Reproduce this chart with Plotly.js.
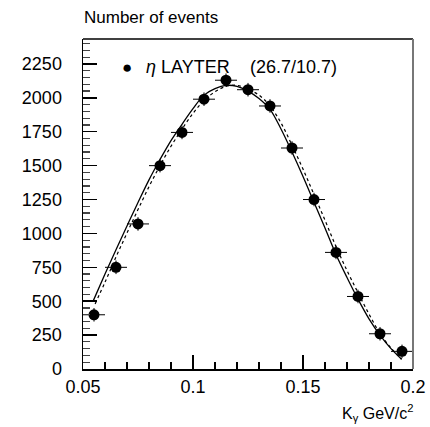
<!DOCTYPE html>
<html>
<head>
<meta charset="utf-8">
<script src="https://cdn.plot.ly/plotly-3.0.1.min.js"></script>
<style>
  html, body { margin: 0; padding: 0; background: #fff; overflow: hidden; }
  #chart { width: 430px; height: 427px; }
</style>
</head>
<body>
<div id="chart"></div>
<script>
// Photon energy bins (GeV/c^2) and event counts
const binCenters = [0.055, 0.065, 0.075, 0.085, 0.095, 0.105, 0.115, 0.125,
                    0.135, 0.145, 0.155, 0.165, 0.175, 0.185, 0.195];
const counts = [400, 750, 1070, 1500, 1745, 1990, 2130, 2060,
                1940, 1630, 1250, 860, 535, 260, 130];
const countErr = [50, 50, 50, 50, 50, 50, 50, 50, 50, 50, 50, 50, 50, 50, 50];
const binHalfWidth = [0.005, 0.005, 0.005, 0.005, 0.005, 0.005, 0.005, 0.005,
                      0.005, 0.005, 0.005, 0.005, 0.005, 0.005, 0.005];

// Fitted spectrum (solid)
const fitX = [0.0545, 0.060, 0.065, 0.070, 0.075, 0.080, 0.085, 0.090, 0.095, 0.100,
              0.105, 0.110, 0.115, 0.120, 0.125, 0.130, 0.135, 0.140, 0.145, 0.150,
              0.155, 0.160, 0.165, 0.170, 0.175, 0.180, 0.185, 0.190, 0.1948];
const fitY = [497, 700, 880, 1055, 1228, 1395, 1545, 1685, 1805, 1920,
              2020, 2068, 2092, 2085, 2050, 1995, 1915, 1770, 1600, 1420,
              1230, 1040, 845, 675, 515, 370, 250, 150, 72];

// Alternative spectrum (dotted)
const altX = [0.0555, 0.060, 0.065, 0.070, 0.075, 0.080, 0.085, 0.090, 0.095, 0.100,
              0.105, 0.110, 0.115, 0.120, 0.125, 0.130, 0.135, 0.140, 0.145, 0.150,
              0.155, 0.160, 0.165, 0.170, 0.175, 0.180, 0.185, 0.190, 0.1948];
const altY = [480, 640, 826, 1003, 1176, 1345, 1500, 1643, 1769, 1886,
              1980, 2045, 2084, 2092, 2063, 2020, 1940, 1815, 1650, 1475,
              1287, 1097, 903, 726, 563, 405, 262, 155, 72];

const xTicks = [0.05, 0.1, 0.15, 0.2];
const xTickText = ['0.05', '0.1', '0.15', '0.2'];
const yTicks = [0, 250, 500, 750, 1000, 1250, 1500, 1750, 2000, 2250];

const FONT = 'Liberation Sans, Arial, sans-serif';

const traces = [
  {
    x: fitX, y: fitY, type: 'scatter', mode: 'lines',
    line: { color: '#000', width: 1.3, shape: 'spline', smoothing: 1 },
    hoverinfo: 'skip'
  },
  {
    x: altX, y: altY, type: 'scatter', mode: 'lines',
    line: { color: '#000', width: 1.2, dash: 'dot', shape: 'spline', smoothing: 1 },
    hoverinfo: 'skip'
  },
  {
    x: binCenters, y: counts, type: 'scatter', mode: 'markers',
    marker: { color: '#000', size: 11, symbol: 'circle' },
    error_y: { type: 'data', array: countErr, visible: true, color: '#000', thickness: 1, width: 0 },
    error_x: { type: 'data', array: binHalfWidth, visible: true, color: '#000', thickness: 1, width: 0 }
  }
];

const layout = {
  width: 430, height: 427,
  margin: { l: 83, r: 17, t: 39, b: 58 },
  paper_bgcolor: '#fff', plot_bgcolor: '#fff',
  showlegend: false,
  font: { family: FONT, size: 18, color: '#000' },
  xaxis: {
    range: [0.05, 0.2],
    tickvals: xTicks, ticktext: xTickText,
    ticks: 'inside', ticklen: 14, tickwidth: 1.5, tickcolor: '#000',
    minor: { dtick: 0.01, tick0: 0.05, ticks: 'inside', ticklen: 7, tickwidth: 1.2, tickcolor: '#000' },
    showgrid: false, zeroline: false, layer: 'above traces',
    showline: true, linecolor: '#000', linewidth: 2, mirror: false,
    tickfont: { family: FONT, size: 18, color: '#000' }
  },
  yaxis: {
    range: [0, 2434],
    tickvals: yTicks,
    ticks: 'inside', ticklen: 14, tickwidth: 1.5, tickcolor: '#000',
    minor: { dtick: 50, tick0: 0, ticks: 'inside', ticklen: 7, tickwidth: 1.2, tickcolor: '#444' },
    showgrid: false, zeroline: false, layer: 'above traces',
    showline: true, linecolor: '#000', linewidth: 1.5,
    ticklabelstandoff: 16,
    tickfont: { family: FONT, size: 18, color: '#000' }
  },
  shapes: [
    { type: 'line', xref: 'paper', yref: 'paper', x0: 0, x1: 1, y0: 1, y1: 1,
      line: { color: '#000', width: 1.5 } },
    { type: 'line', xref: 'paper', yref: 'paper', x0: 1, x1: 1, y0: 0, y1: 1,
      line: { color: '#777', width: 2 } }
  ],
  annotations: [
    { xref: 'paper', yref: 'paper', x: -0.003, y: 1.066, xanchor: 'left', yanchor: 'middle',
      text: 'Number of events', showarrow: false, font: { family: FONT, size: 17, color: '#000' } },
    { xref: 'paper', yref: 'paper', x: 1.006, y: -0.133, xanchor: 'right', yanchor: 'middle',
      text: 'K<sub>γ</sub> GeV/c<sup>2</sup>', showarrow: false, font: { family: FONT, size: 16, color: '#000' } },
    { xref: 'paper', yref: 'paper', x: 0.133, y: 0.915, xanchor: 'center', yanchor: 'middle',
      text: '●', showarrow: false, font: { family: FONT, size: 17, color: '#000' } },
    { xref: 'paper', yref: 'paper', x: 0.185, y: 0.915, xanchor: 'left', yanchor: 'middle',
      text: '<i>η</i> LAYTER', showarrow: false, font: { family: FONT, size: 18, color: '#000' } },
    { xref: 'paper', yref: 'paper', x: 0.5, y: 0.915, xanchor: 'left', yanchor: 'middle',
      text: '(26.7/10.7)', showarrow: false, font: { family: FONT, size: 18, color: '#000' } }
  ]
};

Plotly.newPlot('chart', traces, layout, { staticPlot: true, displayModeBar: false });
</script>
</body>
</html>
